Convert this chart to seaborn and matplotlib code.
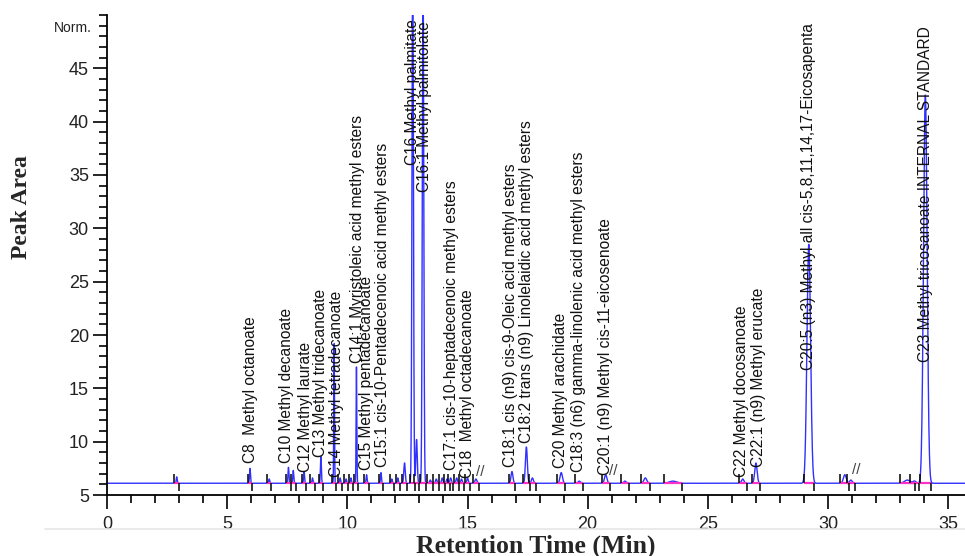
import numpy as np
import pandas as pd
import matplotlib
matplotlib.use("Agg")
import matplotlib.pyplot as plt
from matplotlib.lines import Line2D
from matplotlib.ticker import MultipleLocator
import seaborn as sns

# ---------------- data ----------------
baseline_level = 6.1

# labelled peaks
peak_names = [
    "C8  Methyl octanoate",
    "C10 Methyl decanoate",
    "C12 Methyl laurate",
    "C13 Methyl tridecanoate",
    "C14 Methyl tetradecanoate",
    "C14:1 Myristoleic acid methyl esters",
    "C15 Methyl pentadecanoate",
    "C15:1 cis-10-Pentadecenoic acid methyl esters",
    "C16 Methyl palmitate",
    "C16:1 Methyl palmitolate",
    "C17:1 cis-10-heptadecenoic methyl esters",
    "C18  Methyl octadecanoate",
    "C18:1 cis (n9) cis-9-Oleic acid methyl esters",
    "C18:2 trans (n9) Linolelaidic acid methyl esters",
    "C20 Methyl arachidate",
    "C18:3 (n6) gamma-linolenic acid methyl esters",
    "C20:1 (n9) Methyl cis-11-eicosenoate",
    "C22 Methyl docosanoate",
    "C22:1 (n9) Methyl erucate",
    "C20:5 (n3) Methyl all cis-5,8,11,14,17-Eicosapenta",
    "C23 Methyl tricosanoate INTERNAL STANDARD",
]
peak_rt = [5.95, 7.55, 8.20, 8.90, 9.45, 10.38, 10.80, 11.40, 12.72, 13.15,
           14.30, 15.00, 16.85, 17.45, 18.90, 19.65, 20.75, 26.45, 27.00, 29.20, 34.05]
peak_height = [7.5, 7.6, 7.2, 8.6, 19.3, 17.0, 6.9, 7.1, 56.0, 54.0,
               6.6, 6.6, 7.2, 9.5, 7.1, 6.3, 6.9, 6.5, 8.0, 28.5, 42.5]
peak_sigma = [0.02, 0.02, 0.02, 0.02, 0.015, 0.015, 0.02, 0.02, 0.03, 0.03,
              0.03, 0.03, 0.04, 0.04, 0.05, 0.05, 0.05, 0.05, 0.05, 0.075, 0.075]

# label positions (x in minutes, bottom of text in signal units)
label_x = [5.97, 7.47, 8.26, 8.88, 9.54, 10.41, 10.79, 11.45, 12.70, 13.20,
           14.32, 15.02, 16.80, 17.47, 18.88, 19.63, 20.75, 26.39, 27.10, 29.17, 34.07]
label_y = [8.0, 8.0, 7.2, 8.6, 6.7, 17.4, 7.3, 7.6, 35.9, 33.4,
           7.3, 6.6, 7.6, 9.9, 7.5, 7.2, 6.9, 6.7, 7.6, 16.7, 17.5]

# unlabelled minor peaks
minor_rt = [2.90, 6.75, 7.75, 8.55, 9.70, 9.95, 10.15, 11.85, 12.10, 12.38, 12.88,
            13.45, 13.70, 13.95, 14.15, 14.55, 14.75, 15.35, 17.70, 21.55, 22.40,
            23.55, 30.70, 30.95, 33.30, 33.60]
minor_height = [6.7, 6.5, 7.3, 6.6, 6.6, 6.5, 6.6, 6.5, 6.6, 8.0, 10.2,
                6.4, 6.5, 6.6, 6.5, 6.6, 6.5, 6.5, 6.6, 6.3, 6.6,
                6.3, 6.9, 6.4, 6.4, 6.3]
minor_sigma = [0.02, 0.02, 0.02, 0.02, 0.02, 0.02, 0.02, 0.02, 0.02, 0.03, 0.03,
               0.03, 0.03, 0.03, 0.03, 0.03, 0.03, 0.04, 0.04, 0.05, 0.06,
               0.15, 0.06, 0.05, 0.12, 0.06]

# split-peak marks ("//") drawn by the data system
split_rt = [15.35, 20.9, 31.0]
split_y = [6.5, 6.6, 6.7]

x_ticks = [0, 5, 10, 15, 20, 25, 30, 35]
y_ticks = [5, 10, 15, 20, 25, 30, 35, 40, 45]

# ---------------- build the trace from the peak table ----------------
all_rt = np.array(peak_rt + minor_rt)
all_h = np.array(peak_height + minor_height)
all_s = np.array(peak_sigma + minor_sigma)

t = np.arange(0.0, 35.75, 0.004)
signal = np.full_like(t, baseline_level)
for rt, h, s in zip(all_rt, all_h, all_s):
    signal += (h - baseline_level) * np.exp(-0.5 * ((t - rt) / s) ** 2)
trace = pd.DataFrame({"time": t, "signal": signal})

# ---------------- figure ----------------
sns.set_theme(style="ticks")
plt.rcParams["font.family"] = ["Liberation Sans", "DejaVu Sans"]

fig = plt.figure(figsize=(9.65, 5.56), dpi=100)
ax = fig.add_axes([107 / 965, 61 / 556, 858 / 965, 480 / 556])

sns.lineplot(data=trace, x="time", y="signal", ax=ax, color="#3030ff",
             lw=1.0, estimator=None, sort=False)

# integration markers
win = 2.2 * all_s + 0.05
starts = all_rt - win
ends = all_rt + win
ax.hlines([baseline_level] * len(starts), starts, ends, color="#ff30c8", lw=1.6, zorder=3)
ax.vlines(starts, baseline_level, baseline_level + 0.9, color="black", lw=1.1, zorder=4)
ax.vlines(ends, baseline_level - 0.75, baseline_level, color="black", lw=1.1, zorder=4)
for sx, sy in zip(split_rt, split_y):
    ax.text(sx, sy, "//", fontsize=11, color="#444444", ha="left", va="bottom",
            zorder=5)

# peak labels
for name, lx, ly in zip(peak_names, label_x, label_y):
    ax.text(lx, ly, name, rotation=90, ha="center", va="bottom",
            fontsize=11.2, color="#111111", clip_on=False, zorder=5)

ax.set_xlim(0, 35.7)
ax.set_ylim(5, 50)
ax.set_xticks(x_ticks)
ax.set_yticks(y_ticks)
ax.xaxis.set_minor_locator(MultipleLocator(1))
ax.yaxis.set_minor_locator(MultipleLocator(1))
ax.tick_params(axis="both", which="major", direction="out", length=10, width=1.2,
               labelsize=13, colors="black", labelcolor="#222222")
ax.tick_params(axis="both", which="minor", direction="out", length=6, width=1.2,
               colors="black")
ax.tick_params(axis="y", pad=3)
ax.tick_params(axis="x", pad=5)
ax.set_xlabel("")
ax.set_ylabel("")
for sp in ["top", "right"]:
    ax.spines[sp].set_visible(False)
for sp in ["left", "bottom"]:
    ax.spines[sp].set_linewidth(1.3)
    ax.spines[sp].set_color("black")

ax.text(-0.62, 48.8, "Norm.", ha="right", va="center", fontsize=10, color="#222222")

fig.text(22 / 965, 1 - 207 / 556, "Peak Area", rotation=90, ha="center", va="center",
         family=["Liberation Serif", "DejaVu Serif"], weight="bold", fontsize=17)
fig.text(536 / 965, 1 - 546 / 556, "Retention Time (Min)", ha="center", va="center",
         family=["Liberation Serif", "DejaVu Serif"], weight="bold", fontsize=18.5)
fig.add_artist(Line2D([45 / 965, 1.0], [1 - 529 / 556, 1 - 529 / 556],
                      color="#e6e6e6", lw=1.2))

fig.savefig("out.png", dpi=100)
